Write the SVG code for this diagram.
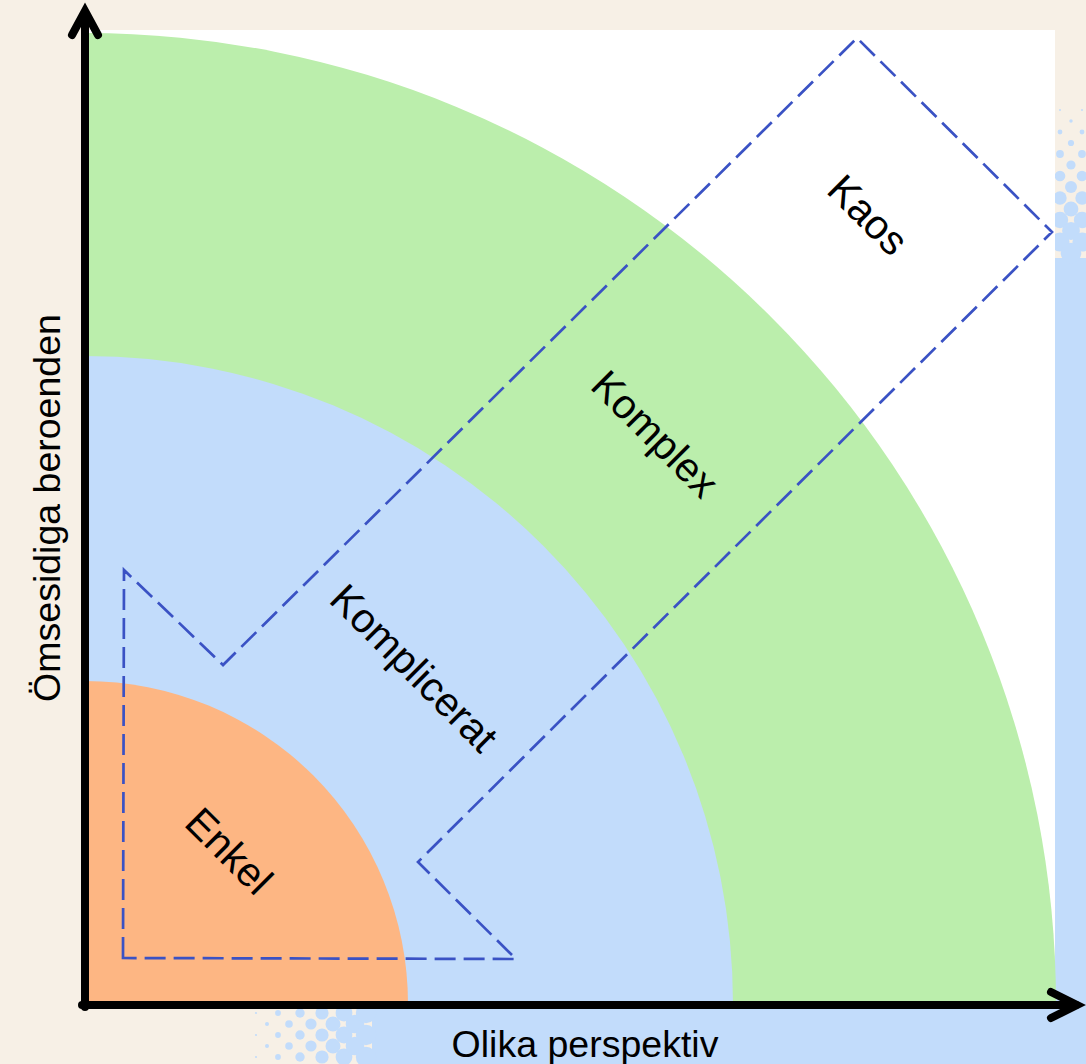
<svg xmlns="http://www.w3.org/2000/svg" width="1086" height="1064" viewBox="0 0 1086 1064">
<style>
.dot{fill:#c2dcfb}
.lbl{font-family:"Liberation Sans",Arial,sans-serif;font-size:37.5px;fill:#000}
.zone{font-family:"Liberation Sans",Arial,sans-serif;font-size:41px;fill:#000;text-anchor:middle;dominant-baseline:central}
.axis{fill:none;stroke:#000;stroke-width:8;stroke-linecap:round;stroke-linejoin:miter}
</style>
<rect x="0" y="0" width="1086" height="1064" fill="#f7f0e6"/>
<g id="halftone">
<rect x="1055" y="258" width="31" height="806" class="dot"/>
<rect x="372" y="1009" width="714" height="55" class="dot"/>
<circle class="dot" cx="1060" cy="110" r="1.0"/><circle class="dot" cx="1082" cy="110" r="1.0"/>
<circle class="dot" cx="1071" cy="121" r="1.7"/>
<circle class="dot" cx="1060" cy="132" r="2.4"/><circle class="dot" cx="1082" cy="132" r="2.4"/>
<circle class="dot" cx="1071" cy="143" r="3.1"/>
<circle class="dot" cx="1060" cy="154" r="3.9"/><circle class="dot" cx="1082" cy="154" r="3.9"/>
<circle class="dot" cx="1071" cy="165" r="4.6"/>
<circle class="dot" cx="1060" cy="176" r="5.3"/><circle class="dot" cx="1082" cy="176" r="5.3"/>
<circle class="dot" cx="1071" cy="187" r="6.0"/>
<circle class="dot" cx="1060" cy="198" r="6.7"/><circle class="dot" cx="1082" cy="198" r="6.7"/>
<circle class="dot" cx="1071" cy="209" r="7.4"/>
<circle class="dot" cx="1060" cy="220" r="8.2"/><circle class="dot" cx="1082" cy="220" r="8.2"/>
<circle class="dot" cx="1071" cy="231" r="8.9"/>
<circle class="dot" cx="1060" cy="242" r="9.6"/><circle class="dot" cx="1082" cy="242" r="9.6"/>
<circle class="dot" cx="1071" cy="253" r="10.3"/>
<circle class="dot" cx="256" cy="1013" r="1.1"/><circle class="dot" cx="256" cy="1035" r="1.1"/><circle class="dot" cx="256" cy="1057" r="1.1"/>
<circle class="dot" cx="267" cy="1024" r="2.0"/><circle class="dot" cx="267" cy="1046" r="2.0"/>
<circle class="dot" cx="278" cy="1013" r="2.9"/><circle class="dot" cx="278" cy="1035" r="2.9"/><circle class="dot" cx="278" cy="1057" r="2.9"/>
<circle class="dot" cx="289" cy="1024" r="3.8"/><circle class="dot" cx="289" cy="1046" r="3.8"/>
<circle class="dot" cx="300" cy="1013" r="4.7"/><circle class="dot" cx="300" cy="1035" r="4.7"/><circle class="dot" cx="300" cy="1057" r="4.7"/>
<circle class="dot" cx="311" cy="1024" r="5.6"/><circle class="dot" cx="311" cy="1046" r="5.6"/>
<circle class="dot" cx="322" cy="1013" r="6.6"/><circle class="dot" cx="322" cy="1035" r="6.6"/><circle class="dot" cx="322" cy="1057" r="6.6"/>
<circle class="dot" cx="333" cy="1024" r="7.5"/><circle class="dot" cx="333" cy="1046" r="7.5"/>
<circle class="dot" cx="344" cy="1013" r="8.4"/><circle class="dot" cx="344" cy="1035" r="8.4"/><circle class="dot" cx="344" cy="1057" r="8.4"/>
<circle class="dot" cx="355" cy="1024" r="9.3"/><circle class="dot" cx="355" cy="1046" r="9.3"/>
<circle class="dot" cx="366" cy="1013" r="10.2"/><circle class="dot" cx="366" cy="1035" r="10.2"/><circle class="dot" cx="366" cy="1057" r="10.2"/>
</g>
<rect id="plot-bg" x="85" y="30" width="970" height="974" fill="#ffffff"/>
<g id="zones">
<path id="zone-komplex" d="M85,1004 L85,33 A971,971 0 0 1 1056,1004 Z" fill="#bbeeac"/>
<path id="zone-komplicerat" d="M85,1004 L85,356 A648,648 0 0 1 733,1004 Z" fill="#c2dcfb"/>
<path id="zone-enkel" d="M85,1004 L85,681 A323,323 0 0 1 408,1004 Z" fill="#fdb683"/>
</g>
<g id="connectors">
<path id="dashed-arrow" d="M123,958 L124,570 L223,665 L857,38 L1052,232 L418,862 L516,959 Z" fill="none" stroke="#3a52c4" stroke-width="2.7" stroke-dasharray="21 8"/>
</g>
<g id="axes">
<line x1="85" y1="14" x2="85" y2="1007" class="axis" stroke-linecap="butt"/>
<line x1="82" y1="1005" x2="1076" y2="1005" class="axis" stroke-linecap="butt"/>
<polyline points="72,35 85,11 98,35" class="axis"/>
<polyline points="1051,992 1077,1005 1051,1018" class="axis"/>
</g>
<g id="labels">
<text class="zone" transform="translate(868,215) rotate(45)">Kaos</text>
<text class="zone" transform="translate(655,434) rotate(45)">Komplex</text>
<text class="zone" transform="translate(414,668) rotate(45)">Komplicerat</text>
<text class="zone" transform="translate(229,851) rotate(45)">Enkel</text>
<text class="lbl" text-anchor="middle" x="585" y="1057">Olika perspektiv</text>
<text class="lbl" text-anchor="middle" transform="translate(60,508) rotate(-90)">Ömsesidiga beroenden</text>
</g>
</svg>
